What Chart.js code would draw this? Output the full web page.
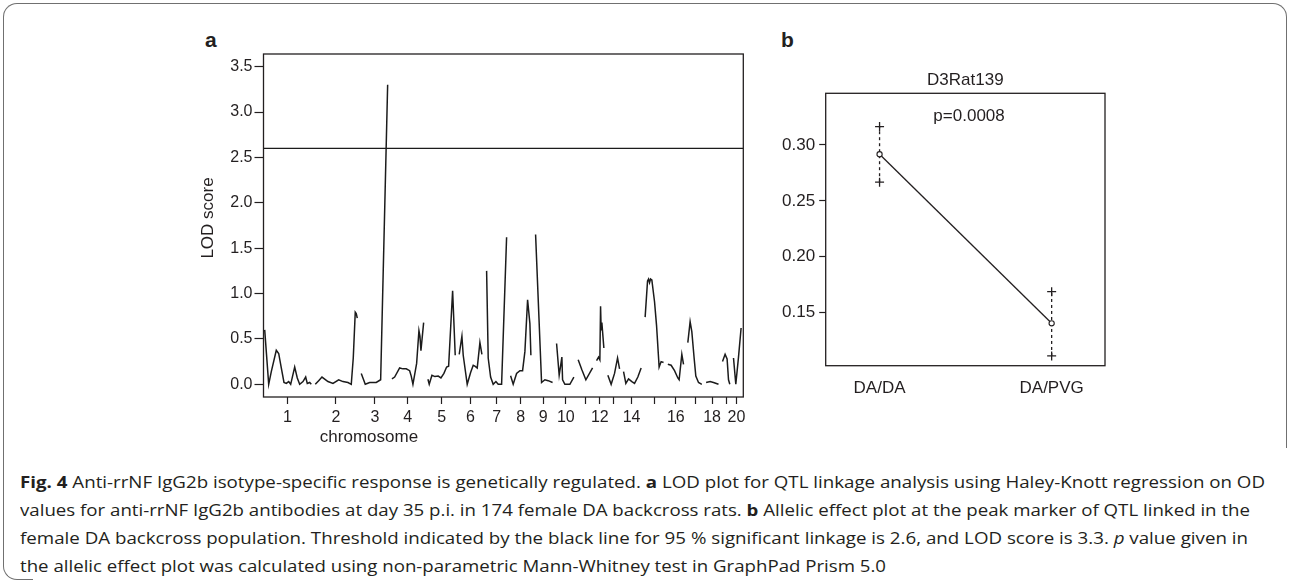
<!DOCTYPE html>
<html><head><meta charset="utf-8">
<script src="https://cdn.jsdelivr.net/npm/chart.js@4.4.1/dist/chart.umd.min.js"></script>
<style>
html,body{margin:0;padding:0;background:#fff;}
body{width:1290px;height:583px;position:relative;overflow:hidden;}
#frameTop{position:absolute;left:3px;top:3px;width:1284px;height:445px;border:1.3px solid #707070;border-bottom:none;border-radius:14px 14px 0 0;box-sizing:border-box;}
#frameLeft{position:absolute;left:3px;top:430px;width:30px;height:150px;border-left:1.3px solid #707070;border-bottom:1.3px solid #707070;border-radius:0 0 0 14px;box-sizing:border-box;}
#wrapA{position:absolute;left:150px;top:30px;width:610px;height:430px;}
#wrapB{position:absolute;left:760px;top:30px;width:370px;height:420px;}
.panel{position:absolute;font:bold 21px "Liberation Sans",Arial,sans-serif;color:#231f20;line-height:1;}
#caption{position:absolute;left:20px;top:467.5px;font-family:"Open Sans",sans-serif;font-size:16.5px;color:#231f20;}
.cl{white-space:nowrap;height:28px;line-height:28px;transform-origin:0 50%;width:max-content;}
</style>
</head>
<body>
<div id="frameTop"></div>
<div id="frameLeft"></div>
<div class="panel" style="left:205px;top:29px;">a</div>
<div class="panel" style="left:781px;top:29px;">b</div>
<div id="wrapA"><canvas id="chartA" width="610" height="430" style="width:610px;height:430px;"></canvas></div>
<div id="wrapB"><canvas id="chartB" width="370" height="420" style="width:370px;height:420px;"></canvas></div>
<div id="caption">
<div class="cl" data-w="1245"><b>Fig. 4</b> Anti-rrNF IgG2b isotype-specific response is genetically regulated. <b>a</b> LOD plot for QTL linkage analysis using Haley-Knott regression on OD</div>
<div class="cl" data-w="1230">values for anti-rrNF IgG2b antibodies at day 35 p.i. in 174 female DA backcross rats. <b>b</b> Allelic effect plot at the peak marker of QTL linked in the</div>
<div class="cl" data-w="1228">female DA backcross population. Threshold indicated by the black line for 95 % significant linkage is 2.6, and LOD score is 3.3. <i>p</i> value given in</div>
<div class="cl" data-w="866">the allelic effect plot was calculated using non-parametric Mann-Whitney test in GraphPad Prism 5.0</div>
</div>
<script>
// ---------- Panel a data ----------
const chrLabels = ['1','2','3','4','5','6','7','8','9','10','','12','','14','','16','','18','','20'];
const chrTickPos = [24,72.5,111.5,144.2,178.2,207,233.2,257.2,279.8,302.5,322.2,336.5,349.8,368.2,391.5,412.5,431.8,448.8,463.2,473.2];
const genomeRange = [0,480];
const lodTicks = [0,0.5,1,1.5,2,2.5,3,3.5];
const lodThreshold = 2.6;
// positions along the genome; null marks a break between chromosomes
const lodPosition = [
 1.2,5.2,7.8,12.8,15.2,17.8,20.5,22.8,25.2,27.2,31.2,33.8,36.2,39.5,42.2,43.8,46.2,47.8, null,
 51.8,55.2,58.5,64.5,69.5,75.2,79.5,84.5,87.8,89.8,91.8,92.8,93.8, null,
 97.8,101.8,106.2,112.8,117.2,124.2, null,
 128.5,131.2,136.2,139.5,142.8,146.2,147.8,149.5,153.2,155.5,156.5,157.5,160.2, null,
 164.5,165.8,168.5,171.5,174.8,177.5,180.5,183.2,185.2,189.2,191.8, null,
 195.8,198.5,199.8,203.8,207.2,209.8,211.5,213.8,216.5,218.5, null,
 223.2,224.8,227.2,229.8,232.5,234.8,238.2,243.2, null,
 247.2,249.8,253.2,256.5,259.2,261.5,264.2,266.5,267.5, null,
 272.2,278.2,281.5,284.8,289.2, null,
 293.2,295.8,297.2,298.5,299.2,301.5,306.5,310.5, null,
 314.8,318.5,322.5,329.2, null,
 333.2,335.2,336.5,337.2,337.8,338.5,340.5, null,
 344.5,347.8,351.2,354.2,356.2, null,
 360.2,362.5,365.2,368.5,371.2,374.5,377.8, null,
 381.8,384.2,385.2,386.2,387.2,388.5,391.2,393.2,395.8,397.8,400.2, null,
 404.5,407.8,411.2,414.5,415.8,418.5,420.2, null,
 424.5,426.8,428.5,430.8,432.5,435.2,438.5, null,
 442.8,446.8,450.2,455.2, null,
 459.2,461.8,463.8,465.2,466.5, null,
 470.2,472.5,475.2,477.8
];
const lodScore = [
 0.60,0.00,0.14,0.375,0.34,0.18,0.02,0.01,0.03,0.00,0.19,0.07,0.00,0.03,0.08,0.01,0.02,0.00, null,
 0.00,0.04,0.08,0.03,0.01,0.05,0.03,0.02,0.00,0.29,0.795,0.78,0.73, null,
 0.12,0.00,0.02,0.02,0.05,3.30, null,
 0.06,0.08,0.18,0.17,0.17,0.15,0.09,0.00,0.23,0.59,0.53,0.37,0.68, null,
 0.055,0.00,0.10,0.085,0.09,0.07,0.12,0.19,0.20,1.03,0.32, null,
 0.33,0.53,0.32,0.00,0.13,0.21,0.20,0.18,0.46,0.33, null,
 1.25,0.29,0.08,0.00,0.03,0.00,0.00,1.62, null,
 0.095,0.00,0.12,0.15,0.15,0.36,0.93,0.67,0.32, null,
 1.65,0.02,0.05,0.04,0.02, null,
 0.45,0.10,0.20,0.30,0.05,0.00,0.00,0.08, null,
 0.27,0.16,0.05,0.18, null,
 0.26,0.30,0.27,0.86,0.60,0.68,0.40, null,
 0.10,0.00,0.12,0.29,0.17, null,
 0.14,0.01,0.06,0.03,0.01,0.08,0.18, null,
 0.74,1.14,1.16,1.12,1.16,1.15,0.91,0.65,0.19,0.25,0.24, null,
 0.22,0.21,0.15,0.07,0.05,0.33,0.22, null,
 0.46,0.69,0.58,0.29,0.09,0.02,0.00, null,
 0.02,0.03,0.02,0.00, null,
 0.25,0.33,0.28,0.05,0.00, null,
 0.29,0.00,0.30,0.62
];

// ---------- Panel b data ----------
const genotypes = ['DA/DA','DA/PVG'];
const genotypePos = [1,2];
const odMean = [0.2917,0.1405];
const odUpper = [0.3164,0.1688];
const odLower = [0.2667,0.1113];
const odTicks = [0.15,0.20,0.25,0.30];
const markerName = 'D3Rat139';
const pValueText = 'p=0.0008';

// ---------- shared style ----------
const FONT = '"Liberation Sans", Arial, Helvetica, sans-serif';
const INK = '#231f20';

const boxPlugin = {
  id: 'box',
  afterDatasetsDraw(chart) {
    const {ctx, chartArea: a} = chart;
    ctx.save();
    ctx.strokeStyle = INK; ctx.lineWidth = 1.3;
    ctx.strokeRect(a.left, a.top, a.right - a.left, a.bottom - a.top);
    ctx.restore();
  }
};
const textPlugin = {
  id: 'freeText',
  afterDraw(chart, args, opts) {
    const ctx = chart.ctx;
    (opts.items || []).forEach(it => {
      ctx.save();
      ctx.fillStyle = INK;
      ctx.font = it.font;
      ctx.textAlign = 'center'; ctx.textBaseline = 'middle';
      let x = it.x, y = it.y;
      if (it.dataX !== undefined) x = chart.scales.x.getPixelForValue(it.dataX);
      if (it.dataY !== undefined) y = chart.scales.y.getPixelForValue(it.dataY);
      ctx.translate(x, y);
      if (it.rotate) ctx.rotate(it.rotate);
      ctx.fillText(it.text, 0, 0);
      ctx.restore();
    });
  }
};

// ---------- Panel a ----------
const lodPoints = lodPosition.map((p, i) => ({x: p === null ? lodPosition[i-1] : p, y: lodScore[i]}));
new Chart(document.getElementById('chartA'), {
  type: 'line',
  data: { datasets: [
    { data: lodPoints, borderColor: '#1b1b1b', borderWidth: 1.5, pointRadius: 0, spanGaps: false, tension: 0 },
    { data: genomeRange.map(g => ({x: g, y: lodThreshold})), borderColor: '#1b1b1b', borderWidth: 1.3, pointRadius: 0 }
  ]},
  options: {
    responsive: false, animation: false, devicePixelRatio: 1,
    layout: { padding: { left: 0, top: 24, right: 16.7, bottom: 12.8 } },
    plugins: {
      legend: { display: false }, tooltip: { enabled: false },
      freeText: { items: [
        { text: 'LOD score', x: 58, y: 188, rotate: -Math.PI/2, font: '17px ' + FONT },
        { text: 'chromosome', x: 219, y: 407, font: '17px ' + FONT }
      ]}
    },
    scales: {
      x: {
        type: 'linear', min: genomeRange[0], max: genomeRange[1],
        afterBuildTicks: s => { s.ticks = chrTickPos.map(v => ({value: v})); },
        afterFit: s => { s.height = 50.2; },
        grid: { drawOnChartArea: false, drawTicks: true, tickLength: 7, tickColor: INK, tickWidth: 1.2 },
        border: { display: false },
        ticks: { autoSkip: false, maxRotation: 0, minRotation: 0, padding: 4, color: INK,
                 font: { family: FONT, size: 16 }, callback: (v, i) => chrLabels[i] }
      },
      y: {
        type: 'linear', min: -0.14, max: 3.64,
        afterBuildTicks: s => { s.ticks = lodTicks.map(v => ({value: v})); },
        afterFit: s => { s.width = 113.5; },
        grid: { drawOnChartArea: false, drawTicks: true, tickLength: 9, tickColor: INK, tickWidth: 1.2 },
        border: { display: false },
        ticks: { autoSkip: false, padding: 2, color: INK, font: { family: FONT, size: 16 },
                 callback: v => Number(v).toFixed(1) }
      }
    }
  },
  plugins: [boxPlugin, textPlugin]
});

// ---------- Panel b ----------
const meanPoints = genotypes.map((g, i) => ({x: genotypePos[i], y: odMean[i]}));
const barSets = genotypes.map((g, i) => ({
  data: [{x: genotypePos[i], y: odLower[i]}, {x: genotypePos[i], y: odUpper[i]}],
  borderColor: INK, borderWidth: 1.3, borderDash: [3, 3],
  pointStyle: 'cross', pointRadius: 4.5, pointBorderWidth: 1.3, pointBorderColor: INK
}));
new Chart(document.getElementById('chartB'), {
  type: 'line',
  data: { datasets: [
    { data: meanPoints, borderColor: INK, borderWidth: 1.3, pointStyle: 'circle', pointRadius: 2.6,
      pointBorderWidth: 1.1, pointBackgroundColor: '#ffffff', pointBorderColor: INK, tension: 0 },
    ...barSets
  ]},
  options: {
    responsive: false, animation: false, devicePixelRatio: 1,
    layout: { padding: { left: 0, top: 0, right: 25, bottom: 34.3 } },
    plugins: {
      legend: { display: false }, tooltip: { enabled: false },
      title: { display: true, text: markerName, fullSize: false, color: INK,
               font: { family: FONT, size: 17, weight: 'normal', lineHeight: 1.2 },
               padding: { top: 40.5, bottom: 2.4 } },
      freeText: { items: [ { text: pValueText, dataX: 1.52, dataY: 0.3253, font: '17px ' + FONT } ] }
    },
    scales: {
      x: {
        type: 'linear', min: 0.687, max: 2.31,
        afterBuildTicks: s => { s.ticks = genotypePos.map(v => ({value: v})); },
        afterFit: s => { s.height = 50; },
        grid: { drawOnChartArea: false, drawTicks: false },
        border: { display: false },
        ticks: { autoSkip: false, maxRotation: 0, padding: 12, color: INK,
                 font: { family: FONT, size: 17 }, callback: (v, i) => genotypes[i] }
      },
      y: {
        type: 'linear', min: 0.1026, max: 0.3462,
        afterBuildTicks: s => { s.ticks = odTicks.map(v => ({value: v})); },
        afterFit: s => { s.width = 65.7; },
        grid: { drawOnChartArea: false, drawTicks: true, tickLength: 6.5, tickColor: INK, tickWidth: 1.2 },
        border: { display: false },
        ticks: { autoSkip: false, padding: 4, color: INK, font: { family: FONT, size: 17 },
                 callback: v => Number(v).toFixed(2) }
      }
    }
  },
  plugins: [boxPlugin, textPlugin]
});

// ---------- caption fitting ----------
function fitCaption() {
  document.querySelectorAll('.cl').forEach(el => {
    el.style.transform = 'none';
    const w = el.getBoundingClientRect().width;
    const target = parseFloat(el.dataset.w);
    if (w > 0) el.style.transform = 'scaleX(' + (target / w) + ')';
  });
}
fitCaption();
if (document.fonts && document.fonts.ready) document.fonts.ready.then(fitCaption);
</script>
</body></html>
